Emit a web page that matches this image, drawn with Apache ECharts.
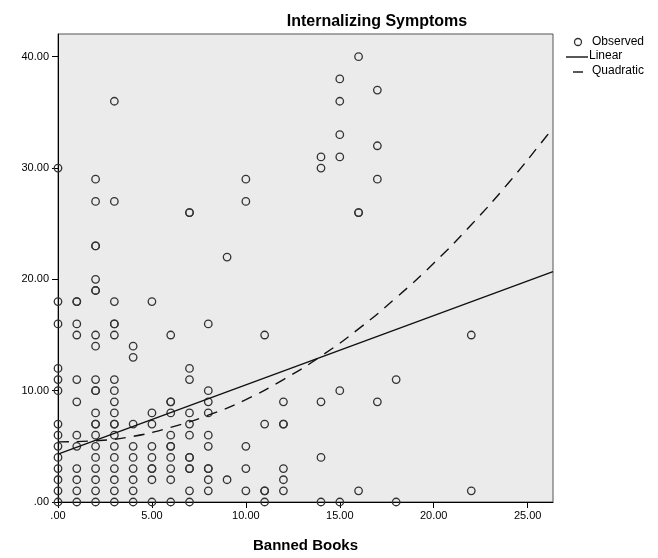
<!DOCTYPE html>
<html><head><meta charset="utf-8">
<script src="https://cdn.jsdelivr.net/npm/echarts@6/dist/echarts.min.js"></script>
<style>html,body{margin:0;padding:0;background:#fff}#c{width:658px;height:558px}</style>
</head><body><div id="c"></div>
<script>
// Observed points: [Banned Books, Internalizing Symptoms]
const observed = [
  [0,0],[0,1],[0,2],[0,3],[0,4],[0,5],[0,6],[0,7],[0,10],[0,11],[0,12],[0,16],[0,18],[0,30],
  [1,0],[1,1],[1,2],[1,3],[1,5],[1,6],[1,9],[1,11],[1,15],[1,16],[1,18],[1,18],
  [2,0],[2,1],[2,2],[2,3],[2,4],[2,5],[2,6],[2,7],[2,7],[2,8],[2,10],[2,10],[2,11],[2,14],[2,15],[2,19],[2,19],[2,20],[2,23],[2,23],[2,27],[2,29],
  [3,0],[3,1],[3,2],[3,3],[3,4],[3,5],[3,6],[3,7],[3,7],[3,8],[3,9],[3,10],[3,11],[3,15],[3,16],[3,16],[3,18],[3,27],[3,36],
  [4,0],[4,1],[4,2],[4,3],[4,4],[4,5],[4,7],[4,13],[4,14],
  [5,0],[5,2],[5,3],[5,3],[5,4],[5,5],[5,7],[5,8],[5,18],
  [6,0],[6,2],[6,3],[6,4],[6,5],[6,5],[6,6],[6,8],[6,9],[6,9],[6,15],
  [7,0],[7,1],[7,3],[7,3],[7,4],[7,4],[7,6],[7,7],[7,8],[7,11],[7,12],[7,26],[7,26],
  [8,1],[8,2],[8,3],[8,3],[8,5],[8,6],[8,8],[8,9],[8,10],[8,16],
  [9,2],[9,22],
  [10,1],[10,3],[10,5],[10,27],[10,29],
  [11,0],[11,1],[11,1],[11,7],[11,15],
  [12,1],[12,2],[12,3],[12,7],[12,7],[12,9],
  [14,0],[14,4],[14,9],[14,30],[14,31],
  [15,0],[15,10],[15,31],[15,33],[15,36],[15,38],
  [16,1],[16,26],[16,26],[16,40],
  [17,9],[17,29],[17,32],[17,37],
  [18,0],[18,11],
  [22,1],[22,15]
];
// Fit lines
const linearFit = [[0,4.3],[26.35,20.7]];
const quadraticFit = [[0,5.4],[2,5.5],[4,5.9],[6,6.7],[8,7.8],[10,9.2],[12,11.0],[14,13.1],[16,15.55],[18,18.35],[20,21.45],[22,24.9],[24,28.7],[26,32.85],[26.35,33.6]];
const xTicks = [0,5,10,15,20,25];
const yTicks = [0,10,20,30,40];

const fmt = v => v === 0 ? '.00' : v.toFixed(2);
const chart = echarts.init(document.getElementById('c'), null, {renderer:'canvas'});
const FONT = 'Liberation Sans, Arial, sans-serif';
chart.setOption({
  animation:false,
  backgroundColor:'#ffffff',
  title:{text:'Internalizing Symptoms', left:372, top:9, textAlign:'center',
    textStyle:{fontFamily:FONT, fontSize:16, fontWeight:'bold', color:'#000'}},
  grid:{left:58, right:105, top:34, bottom:52, show:true, backgroundColor:'#ebebeb', borderColor:'#555', borderWidth:1},
  xAxis:{type:'value', min:0, max:26.35, interval:5, name:'Banned Books', nameLocation:'middle', nameGap:36,
    nameTextStyle:{fontFamily:FONT, fontSize:15, fontWeight:'bold', color:'#000'},
    axisLine:{show:true, lineStyle:{color:'#000', width:1}},
    axisTick:{show:true, length:6, lineStyle:{color:'#000', width:1}},
    axisLabel:{fontFamily:FONT, fontSize:11, color:'#000', margin:8, showMaxLabel:false,
      formatter:v => xTicks.includes(v) ? fmt(v) : ''},
    splitLine:{show:false}},
  yAxis:{type:'value', min:0, max:42.04, interval:10,
    axisLine:{show:true, lineStyle:{color:'#000', width:1}},
    axisTick:{show:true, length:6, lineStyle:{color:'#000', width:1}},
    axisLabel:{fontFamily:FONT, fontSize:11, color:'#000', margin:9, showMaxLabel:false,
      formatter:v => yTicks.includes(v) ? fmt(v) : ''},
    splitLine:{show:false}},
  series:[
    {name:'Observed', type:'scatter', data:observed, symbol:'circle', symbolSize:7.5,
      itemStyle:{color:'rgba(0,0,0,0)', borderColor:'#333', borderWidth:1.3, opacity:1}, z:3},
    {name:'Linear', type:'line', data:linearFit, showSymbol:false, symbol:'none',
      lineStyle:{color:'#111', width:1.4}, z:4},
    {name:'Quadratic', type:'line', data:quadraticFit, showSymbol:false, symbol:'none', smooth:true,
      lineStyle:{color:'#111', width:1.4, type:[11,8]}, z:4}
  ],
  graphic:[
    {type:'circle', shape:{cx:578, cy:42, r:3.5}, style:{fill:'#fff', stroke:'#333', lineWidth:1.3}},
    {type:'text', left:592, top:36, style:{text:'Observed', font:'12px '+FONT, fill:'#000'}},
    {type:'line', shape:{x1:566, y1:57, x2:588, y2:57}, style:{stroke:'#111', lineWidth:1.4}},
    {type:'text', left:589, top:50, style:{text:'Linear', font:'12px '+FONT, fill:'#000'}},
    {type:'line', shape:{x1:573, y1:72, x2:583, y2:72}, style:{stroke:'#111', lineWidth:1.4}},
    {type:'text', left:592, top:65, style:{text:'Quadratic', font:'12px '+FONT, fill:'#000'}}
  ]
});
</script></body></html>
